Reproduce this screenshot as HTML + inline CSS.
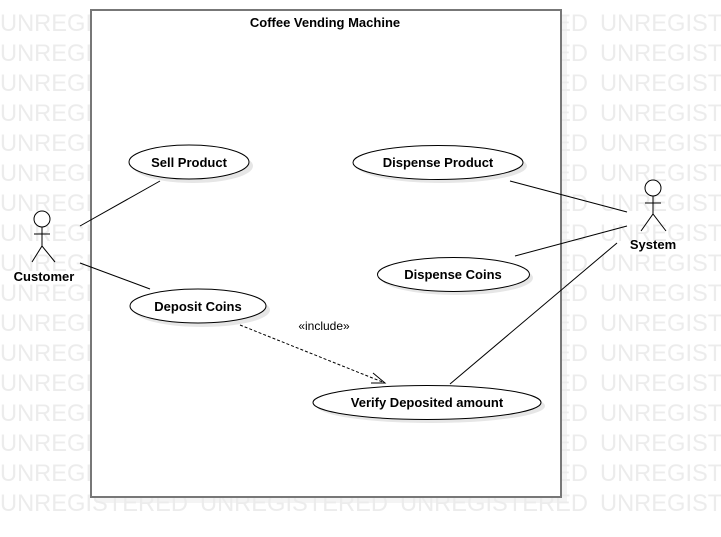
<!DOCTYPE html>
<html><head><meta charset="utf-8"><style>
html,body{margin:0;padding:0;background:#fff;}
svg{display:block;}
</style></head><body>
<svg width="721" height="537" viewBox="0 0 721 537" xmlns="http://www.w3.org/2000/svg" font-family="Liberation Sans, Arial, sans-serif">
<defs>
<g id="row" fill="#ececec" font-size="24">
<text x="0" textLength="188" lengthAdjust="spacingAndGlyphs">UNREGISTERED</text>
<text x="200" textLength="188" lengthAdjust="spacingAndGlyphs">UNREGISTERED</text>
<text x="400" textLength="188" lengthAdjust="spacingAndGlyphs">UNREGISTERED</text>
<text x="600" textLength="188" lengthAdjust="spacingAndGlyphs">UNREGISTERED</text>
</g>
</defs>
<use href="#row" y="31"/><use href="#row" y="61"/><use href="#row" y="91"/><use href="#row" y="121"/>
<use href="#row" y="151"/><use href="#row" y="181"/><use href="#row" y="211"/><use href="#row" y="241"/>
<use href="#row" y="271"/><use href="#row" y="301"/><use href="#row" y="331"/><use href="#row" y="361"/>
<use href="#row" y="391"/><use href="#row" y="421"/><use href="#row" y="451"/><use href="#row" y="481"/>
<use href="#row" y="511"/>
<rect x="96" y="15" width="471" height="488" fill="#ececec" opacity="0.6"/>
<rect x="91" y="10" width="470" height="487" fill="#fff" stroke="#777" stroke-width="2"/>
<text x="325" y="27" font-size="13" font-weight="bold" text-anchor="middle">Coffee Vending Machine</text>
<g stroke="#000" stroke-width="1" fill="none">
<line x1="80" y1="226" x2="160" y2="181"/>
<line x1="80" y1="263" x2="150" y2="289"/>
<line x1="627" y1="212" x2="510" y2="181"/>
<line x1="627" y1="226" x2="515" y2="256"/>
<line x1="617" y1="243" x2="450" y2="384"/>
<line x1="240" y1="325" x2="385" y2="383" stroke-dasharray="3,2"/>
<polyline points="373,373 385,383 371,383"/>
</g>
<g fill="#e6e6e6">
<ellipse cx="193" cy="166" rx="60" ry="17"/>
<ellipse cx="442" cy="166" rx="85" ry="17"/>
<ellipse cx="457" cy="278" rx="76" ry="17"/>
<ellipse cx="202" cy="310" rx="68" ry="17"/>
<ellipse cx="431" cy="406" rx="114" ry="17"/>
</g>
<g fill="#fff" stroke="#000" stroke-width="1">
<ellipse cx="189" cy="162" rx="60" ry="17"/>
<ellipse cx="438" cy="162.5" rx="85" ry="17"/>
<ellipse cx="453.5" cy="274.5" rx="76" ry="17"/>
<ellipse cx="198" cy="306" rx="68" ry="17"/>
<ellipse cx="427" cy="402.5" rx="114" ry="17"/>
</g>
<g font-size="13" font-weight="bold" text-anchor="middle">
<text x="189" y="167">Sell Product</text>
<text x="438" y="167">Dispense Product</text>
<text x="453" y="279">Dispense Coins</text>
<text x="198" y="311">Deposit Coins</text>
<text x="427" y="407">Verify Deposited amount</text>
<text x="44" y="281">Customer</text>
<text x="653" y="249">System</text>
</g>
<text x="324" y="330" font-size="12" text-anchor="middle" fill="#000">«include»</text>
<g stroke="#000" stroke-width="1" fill="#fff">
<circle cx="42" cy="219" r="8"/>
<line x1="42" y1="227" x2="42" y2="246"/>
<line x1="34" y1="234" x2="50" y2="234"/>
<polyline fill="none" points="32,262 42,246 55,262"/>
<circle cx="653" cy="188" r="8"/>
<line x1="653" y1="196" x2="653" y2="214"/>
<line x1="645" y1="203" x2="661" y2="203"/>
<polyline fill="none" points="641,231 653,214 666,231"/>
</g>
</svg>
</body></html>
